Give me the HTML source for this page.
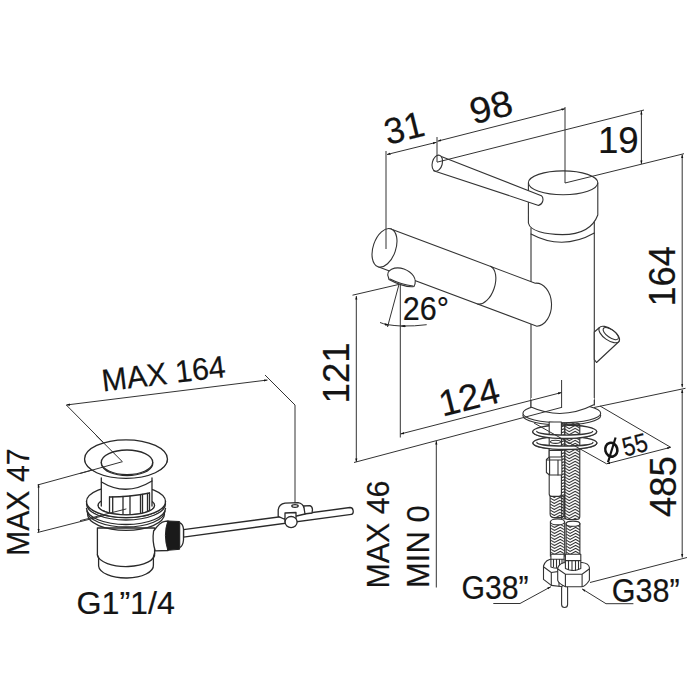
<!DOCTYPE html>
<html><head><meta charset="utf-8"><style>
html,body{margin:0;padding:0;background:#fff;width:700px;height:700px;overflow:hidden}
svg{display:block}
text{font-family:"Liberation Sans",sans-serif;fill:#141414;stroke:#141414;stroke-width:0.2}
.d{stroke:#333;stroke-width:1.0;fill:none}
.o{stroke:#333;stroke-width:1.1;fill:#fff;stroke-linejoin:round}
.l{stroke:#333;stroke-width:1.1;fill:none;stroke-linecap:round}
.dr .o,.dr .l{stroke-width:1.3;stroke:#2a2a2a}
</style></head><body>
<svg width="700" height="700" viewBox="0 0 700 700">
<!-- SHAPES -->
<defs>
<marker id="a" viewBox="0 0 10 6" refX="10" refY="3" markerWidth="3.6" markerHeight="2.9" markerUnits="userSpaceOnUse" orient="auto-start-reverse"><path d="M0,0 L10,3 L0,6 Z" fill="#111"/></marker>
<pattern id="brL" x="550.1" y="0" width="14.3" height="6.0" patternUnits="userSpaceOnUse"><path d="M-1,-24.60 L4.15,-21.51 L9.87,-24.66 L15.30,-21.40 M-1,-21.60 L4.15,-18.51 L9.87,-21.66 L15.30,-18.40 M-1,-18.60 L4.15,-15.51 L9.87,-18.66 L15.30,-15.40 M-1,-15.60 L4.15,-12.51 L9.87,-15.66 L15.30,-12.40 M-1,-12.60 L4.15,-9.51 L9.87,-12.66 L15.30,-9.40 M-1,-9.60 L4.15,-6.51 L9.87,-9.66 L15.30,-6.40 M-1,-6.60 L4.15,-3.51 L9.87,-6.66 L15.30,-3.40 M-1,-3.60 L4.15,-0.51 L9.87,-3.66 L15.30,-0.40 M-1,-0.60 L4.15,2.49 L9.87,-0.66 L15.30,2.60 M-1,2.40 L4.15,5.49 L9.87,2.34 L15.30,5.60 M-1,5.40 L4.15,8.49 L9.87,5.34 L15.30,8.60 M-1,8.40 L4.15,11.49 L9.87,8.34 L15.30,11.60 M-1,11.40 L4.15,14.49 L9.87,11.34 L15.30,14.60 M-1,14.40 L4.15,17.49 L9.87,14.34 L15.30,17.60 M-1,17.40 L4.15,20.49 L9.87,17.34 L15.30,20.60 M-1,20.40 L4.15,23.49 L9.87,20.34 L15.30,23.60" stroke="#2a2a2a" stroke-width="1.05" fill="none"/></pattern>
<pattern id="brR" x="564.8" y="0" width="15" height="6.0" patternUnits="userSpaceOnUse"><path d="M-1,-24.60 L4.35,-21.39 L10.35,-24.69 L16.00,-21.30 M-1,-21.60 L4.35,-18.39 L10.35,-21.69 L16.00,-18.30 M-1,-18.60 L4.35,-15.39 L10.35,-18.69 L16.00,-15.30 M-1,-15.60 L4.35,-12.39 L10.35,-15.69 L16.00,-12.30 M-1,-12.60 L4.35,-9.39 L10.35,-12.69 L16.00,-9.30 M-1,-9.60 L4.35,-6.39 L10.35,-9.69 L16.00,-6.30 M-1,-6.60 L4.35,-3.39 L10.35,-6.69 L16.00,-3.30 M-1,-3.60 L4.35,-0.39 L10.35,-3.69 L16.00,-0.30 M-1,-0.60 L4.35,2.61 L10.35,-0.69 L16.00,2.70 M-1,2.40 L4.35,5.61 L10.35,2.31 L16.00,5.70 M-1,5.40 L4.35,8.61 L10.35,5.31 L16.00,8.70 M-1,8.40 L4.35,11.61 L10.35,8.31 L16.00,11.70 M-1,11.40 L4.35,14.61 L10.35,11.31 L16.00,14.70 M-1,14.40 L4.35,17.61 L10.35,14.31 L16.00,17.70 M-1,17.40 L4.35,20.61 L10.35,17.31 L16.00,20.70 M-1,20.40 L4.35,23.61 L10.35,20.31 L16.00,23.70" stroke="#2a2a2a" stroke-width="1.05" fill="none"/></pattern>
<pattern id="brS" x="561.5" y="0" width="3.3" height="6.0" patternUnits="userSpaceOnUse"><path d="M-1,-24.60 L0.96,-23.43 L2.28,-24.15 L4.30,-22.94 M-1,-21.60 L0.96,-20.43 L2.28,-21.15 L4.30,-19.94 M-1,-18.60 L0.96,-17.43 L2.28,-18.15 L4.30,-16.94 M-1,-15.60 L0.96,-14.43 L2.28,-15.15 L4.30,-13.94 M-1,-12.60 L0.96,-11.43 L2.28,-12.15 L4.30,-10.94 M-1,-9.60 L0.96,-8.43 L2.28,-9.15 L4.30,-7.94 M-1,-6.60 L0.96,-5.43 L2.28,-6.15 L4.30,-4.94 M-1,-3.60 L0.96,-2.43 L2.28,-3.15 L4.30,-1.94 M-1,-0.60 L0.96,0.57 L2.28,-0.15 L4.30,1.06 M-1,2.40 L0.96,3.57 L2.28,2.85 L4.30,4.06 M-1,5.40 L0.96,6.57 L2.28,5.85 L4.30,7.06 M-1,8.40 L0.96,9.57 L2.28,8.85 L4.30,10.06 M-1,11.40 L0.96,12.57 L2.28,11.85 L4.30,13.06 M-1,14.40 L0.96,15.57 L2.28,14.85 L4.30,16.06 M-1,17.40 L0.96,18.57 L2.28,17.85 L4.30,19.06 M-1,20.40 L0.96,21.57 L2.28,20.85 L4.30,22.06" stroke="#2a2a2a" stroke-width="1.05" fill="none"/></pattern>
<pattern id="brLL" x="550.4" y="0" width="14.3" height="6.0" patternUnits="userSpaceOnUse"><path d="M-1,-24.60 L4.15,-21.51 L9.87,-24.66 L15.30,-21.40 M-1,-21.60 L4.15,-18.51 L9.87,-21.66 L15.30,-18.40 M-1,-18.60 L4.15,-15.51 L9.87,-18.66 L15.30,-15.40 M-1,-15.60 L4.15,-12.51 L9.87,-15.66 L15.30,-12.40 M-1,-12.60 L4.15,-9.51 L9.87,-12.66 L15.30,-9.40 M-1,-9.60 L4.15,-6.51 L9.87,-9.66 L15.30,-6.40 M-1,-6.60 L4.15,-3.51 L9.87,-6.66 L15.30,-3.40 M-1,-3.60 L4.15,-0.51 L9.87,-3.66 L15.30,-0.40 M-1,-0.60 L4.15,2.49 L9.87,-0.66 L15.30,2.60 M-1,2.40 L4.15,5.49 L9.87,2.34 L15.30,5.60 M-1,5.40 L4.15,8.49 L9.87,5.34 L15.30,8.60 M-1,8.40 L4.15,11.49 L9.87,8.34 L15.30,11.60 M-1,11.40 L4.15,14.49 L9.87,11.34 L15.30,14.60 M-1,14.40 L4.15,17.49 L9.87,14.34 L15.30,17.60 M-1,17.40 L4.15,20.49 L9.87,17.34 L15.30,20.60 M-1,20.40 L4.15,23.49 L9.87,20.34 L15.30,23.60" stroke="#2a2a2a" stroke-width="1.05" fill="none"/></pattern>
<pattern id="brLR" x="566.1" y="0" width="13.8" height="6.0" patternUnits="userSpaceOnUse"><path d="M-1,-24.60 L4.00,-21.60 L9.52,-24.63 L14.80,-21.47 M-1,-21.60 L4.00,-18.60 L9.52,-21.63 L14.80,-18.47 M-1,-18.60 L4.00,-15.60 L9.52,-18.63 L14.80,-15.47 M-1,-15.60 L4.00,-12.60 L9.52,-15.63 L14.80,-12.47 M-1,-12.60 L4.00,-9.60 L9.52,-12.63 L14.80,-9.47 M-1,-9.60 L4.00,-6.60 L9.52,-9.63 L14.80,-6.47 M-1,-6.60 L4.00,-3.60 L9.52,-6.63 L14.80,-3.47 M-1,-3.60 L4.00,-0.60 L9.52,-3.63 L14.80,-0.47 M-1,-0.60 L4.00,2.40 L9.52,-0.63 L14.80,2.53 M-1,2.40 L4.00,5.40 L9.52,2.37 L14.80,5.53 M-1,5.40 L4.00,8.40 L9.52,5.37 L14.80,8.53 M-1,8.40 L4.00,11.40 L9.52,8.37 L14.80,11.53 M-1,11.40 L4.00,14.40 L9.52,11.37 L14.80,14.53 M-1,14.40 L4.00,17.40 L9.52,14.37 L14.80,17.53 M-1,17.40 L4.00,20.40 L9.52,17.37 L14.80,20.53 M-1,20.40 L4.00,23.40 L9.52,20.37 L14.80,23.53" stroke="#2a2a2a" stroke-width="1.05" fill="none"/></pattern>
</defs>

<!-- ===== faucet ===== -->
<rect x="531" y="228" width="63" height="182" fill="#fff"/>
<g class="l">
<line x1="531" y1="228" x2="531" y2="408"/>
<line x1="594.3" y1="222" x2="594.3" y2="405"/>
<path d="M531,234 Q562.5,251 594.3,233"/>
</g>
<!-- cap -->
<path class="o" d="M528.4,183 L528.4,223 C530,231 545,234.6 562.4,234.6 C580,234.6 593,228 597.8,215 L597.8,183 Z"/>
<ellipse class="o" cx="563.1" cy="182.8" rx="34.7" ry="11.9"/>
<!-- lever -->
<path class="o" d="M438.7,155.6 L541.4,195.7 C544,198 543.5,204 538.6,205.4 L433.6,170.7 Z"/>
<ellipse class="o" cx="437.3" cy="163.2" rx="5" ry="8.2" transform="rotate(15 437.3 163.2)"/>
<!-- knob -->
<path class="o" d="M594.3,332 L599.5,327.5 L619,341.5 L596.5,362.5 L594.3,359.5 Z"/>
<ellipse class="o" cx="609.2" cy="334.5" rx="12" ry="5.6" transform="rotate(35 609.2 334.5)"/>
<ellipse class="l" cx="610.8" cy="333.6" rx="9" ry="3.9" transform="rotate(35 610.8 333.6)"/>
<!-- spout -->
<path d="M390.9,228.9 L535.2,283.2 A15.5,21.5 0 0 1 536.8,326.2 L378.1,266.7 Z" fill="#fff"/>
<g class="l">
<path d="M390.9,228.9 L535.2,283.2 A15.5,21.5 0 0 1 536.8,326.2 L378.1,266.7"/>
<path d="M490.5,266.2 A11.3,20 18.7 0 1 477.7,304"/>
</g>
<ellipse class="o" cx="384.5" cy="247.8" rx="11.3" ry="20" transform="rotate(18.7 384.5 247.8)"/>
<!-- aerator -->
<path class="o" d="M388.5,277.5 C385,270 395,266 404,269 C412,272 418,279 414,286.5 C408,288 395,283 389,279.5 Z"/>
<path class="l" d="M390,279 C396,282 405,285 413,286"/>

<!-- ===== base ===== -->
<!-- flange -->
<ellipse class="o" cx="561.8" cy="415.4" rx="38.9" ry="9.6"/>
<ellipse class="o" cx="561.8" cy="413.2" rx="38.9" ry="9.6"/>
<path d="M531,398 L531,407 Q562,421 594.3,404.6 L594.3,398 Z" fill="#fff"/>
<path class="l" d="M531,400 L531,407 Q562,421 594.3,404.6 L594.3,400"/>
<!-- washers (back) -->
<ellipse class="o" cx="564.9" cy="443" rx="32" ry="6.5" style="stroke-width:1.3"/>
<ellipse class="o" cx="564.7" cy="431.75" rx="32" ry="6.75" style="stroke-width:1.3"/>
<!-- rod + hoses (through washers) -->
<rect class="o" x="549.2" y="422" width="12.2" height="36"/>
<rect x="564.8" y="423" width="15" height="96.5" rx="3" fill="url(#brR)" stroke="#333" stroke-width="1.1"/>
<rect x="561.5" y="423" width="3.3" height="96" fill="url(#brS)" stroke="#333" stroke-width="0.8"/>
<!-- washers (front bands) -->
<path d="M532.7,431.75 A32,6.75 0 0 0 596.7,431.75 L592.7,431.3 A28,3.8 0 0 1 536.7,431.3 Z" fill="#fff"/>
<path class="l" style="stroke-width:1.3" d="M532.7,431.75 A32,6.75 0 0 0 596.7,431.75 M536.7,431.3 A28,3.8 0 0 0 592.7,431.3"/>
<path d="M532.9,443 A32,6.5 0 0 0 596.9,443 L592.9,442.4 A28,3.6 0 0 1 536.9,442.4 Z" fill="#fff"/>
<path class="l" style="stroke-width:1.3" d="M532.9,443 A32,6.5 0 0 0 596.9,443 M536.9,442.4 A28,3.6 0 0 0 592.9,442.4"/>
<ellipse class="o" cx="555.5" cy="441.8" rx="5" ry="1.6"/>
<!-- left rod + hex coupling -->
<rect class="o" x="549.2" y="450.5" width="12.2" height="8"/>
<path class="o" d="M549.2,474 L549.2,494 Q549.2,496.5 552,496.5 L558.6,496.5 Q561.4,496.5 561.4,494 L561.4,474 Z"/>
<path class="o" d="M546.4,459.5 L549.5,457 L561.9,457 L561.9,475 L549.5,475 L546.4,472.5 Z"/>
<path class="l" d="M549.6,457.5 L549.6,474.5 M546.6,460 L561.5,460 M558,460 L558,475"/>
<!-- left braided -->
<path d="M550.1,496.3 L564.4,496.3 L564.4,514 Q564.4,517.6 560.5,517.6 L554,517.6 Q550.1,517.6 550.1,514 Z" fill="url(#brL)" stroke="#333" stroke-width="1.1"/>
<!-- lower braided hoses -->
<rect x="550.4" y="522" width="14.3" height="34" fill="url(#brLL)" stroke="#333" stroke-width="1.1"/>
<ellipse class="o" cx="557.5" cy="521.9" rx="7.1" ry="3"/>
<rect x="566.1" y="523.7" width="13.8" height="33" fill="url(#brLR)" stroke="#333" stroke-width="1.1"/>
<ellipse class="o" cx="573" cy="523.7" rx="6.9" ry="2.6"/>
<!-- nuts -->
<path class="o" d="M543.5,566 C545,561 549,559 553,559 L560,559.5 L563,562 L563,586.7 L551.3,585.4 L543.5,579.4 Z"/>
<path class="l" d="M543.8,567 L551.3,572.5 L551.3,585.2 M551.3,572.5 L559,571.5 L559,586"/>
<path class="o" d="M550.9,554.2 L564.1,554.2 L564.1,567 Q557.5,569.5 550.9,567 Z"/>
<path class="l" d="M551,559.3 L564,559.3 M553.5,560 L553.5,566.5 M556.5,560 L556.5,567.5 M559.5,560 L559.5,567.5 M562,560 L562,567"/>
<rect class="o" x="561.6" y="585" width="6" height="22.5" rx="3"/>
<path class="o" d="M557.7,568 C559,564 563,562.5 567,562.5 L582,562.5 C586,563 589,565 589.4,567.5 L589.4,580.3 C587,584 584,586.7 582,586.7 L565.4,586.7 C562,585 558.5,583 557.7,580.3 Z"/>
<path class="l" d="M557.9,569 L565.4,574.3 L582.1,574.3 L589.2,569 M565.4,574.3 L565.4,586.5 M582.1,574.3 L582.1,586.5"/>
<path class="o" d="M565.4,554.2 L580.8,554.2 L580.8,568.5 Q573,572.5 565.4,568.5 Z"/>
<path class="l" d="M565.5,560.6 L580.7,560.6 M568.5,561 L568.5,569.5 M572,561 L572,570.5 M575.5,561 L575.5,570.5 M578.5,561 L578.5,569.5"/>

<!-- ===== dimension lines (faucet) ===== -->
<g class="d">
<line x1="386" y1="151" x2="386" y2="249"/>
<line x1="437" y1="137" x2="437" y2="162"/>
<line x1="387" y1="154.5" x2="436.5" y2="142.3" marker-start="url(#a)" marker-end="url(#a)"/>
<line x1="437.5" y1="141.2" x2="565" y2="108.7" marker-start="url(#a)" marker-end="url(#a)"/>
<line x1="565" y1="107" x2="565" y2="183"/>
<line x1="437" y1="162.2" x2="644" y2="110"/>
<line x1="641.4" y1="111" x2="641.4" y2="164" marker-start="url(#a)" marker-end="url(#a)"/>
<line x1="565" y1="183" x2="684" y2="153.7"/>
<line x1="682.2" y1="154.5" x2="682.2" y2="387.3" marker-start="url(#a)" marker-end="url(#a)"/>
<line x1="682.2" y1="389.5" x2="682.2" y2="557.5" marker-start="url(#a)" marker-end="url(#a)"/>
<line x1="594" y1="407.5" x2="685.5" y2="388.3"/>
<line x1="590" y1="582.5" x2="687" y2="557.5"/>
<line x1="356.3" y1="296" x2="356.3" y2="462" marker-start="url(#a)" marker-end="url(#a)"/>
<line x1="352.5" y1="295.2" x2="399" y2="284.4"/>
<line x1="354" y1="462.5" x2="561.6" y2="407.4"/>
<line x1="400.3" y1="284.4" x2="400.3" y2="437.5"/>
<line x1="399" y1="284.4" x2="387.5" y2="327"/>
<path d="M380,322.5 Q386,325.2 401,326 Q415,326.3 426.7,324.7"/>
<path d="M384.5,324.2 L388.6,325.3" marker-end="url(#a)"/>
<path d="M406,326.2 L401.2,326" marker-end="url(#a)"/>
<line x1="400.5" y1="434" x2="561.6" y2="392.5" marker-start="url(#a)" marker-end="url(#a)"/>
<line x1="561.6" y1="380" x2="561.6" y2="408"/>
<line x1="436.3" y1="441" x2="436.3" y2="587.5" marker-start="url(#a)"/>
<line x1="600" y1="406" x2="670.7" y2="447.3"/>
<line x1="534" y1="423" x2="606.6" y2="463.8"/>
<line x1="606.6" y1="463.8" x2="670.7" y2="447.3" marker-start="url(#a)" marker-end="url(#a)"/>
<polyline points="550.9,586.7 520,603.5 493.3,603.5" marker-start="url(#a)"/>
<polyline points="582.1,588.9 606,603.7 633.4,603.7" marker-start="url(#a)"/>
</g>

<!-- phi -->
<ellipse cx="611.3" cy="449.7" rx="6" ry="7" transform="rotate(-15 611.3 449.7)" fill="none" stroke="#141414" stroke-width="2.6"/>
<line x1="615.6" y1="437.5" x2="608" y2="462.3" stroke="#141414" stroke-width="2.2"/>
<!-- ===== drain ===== -->
<g class="d">
<line x1="66.3" y1="405" x2="267.5" y2="380" marker-start="url(#a)" marker-end="url(#a)"/>
<line x1="66.3" y1="405" x2="122.4" y2="461.7"/>
<polyline points="265,375 295,405 295,505"/>
<line x1="38.6" y1="484" x2="38.6" y2="532.5" marker-start="url(#a)" marker-end="url(#a)"/>
<line x1="37.5" y1="485" x2="122.4" y2="461.7"/>
<line x1="37.5" y1="532.5" x2="126" y2="510"/>
</g>
<g class="dr">
<!-- rod -->
<path class="o" d="M183.5,529.6 L350,507.5 C354,507.5 354,514 351.4,514.3 L183.5,537.1 Z"/>
<!-- clip -->
<path class="o" d="M303.6,506 L310,505.7 Q313,507 312.3,511 L312,513 L304,514 Z"/>
<path class="o" d="M278.2,516.4 L278.2,510 Q279,504 285,503.2 L298,502.7 Q303,503.5 304,508 L305,514 L284,519 Z"/>
<ellipse class="l" cx="295" cy="506" rx="3.2" ry="1.3"/>
<path class="o" d="M285,513 L296,512.5 L296,522 L285,522 Z"/>
<ellipse class="o" cx="291.1" cy="522.1" rx="6" ry="5.6"/>
<!-- lower body -->
<path class="o" d="M97.4,528 L97.4,555 L98.6,558 L98.6,566 A27.4,12.5 0 0 0 153.4,565 L153.4,557 L154.6,553 L154.6,528 Z"/>
<path class="l" d="M97.4,555 A28.6,12.5 0 0 0 154.6,553"/>
<!-- outlet -->
<path class="o" d="M153.6,531 Q160,522 165,521.4 L168,521 L168,550.5 L155.2,550.8 Q152,541 153.6,531 Z"/>
<path d="M167.8,521 L179.6,521.5 L179.6,549.3 L167.8,550.3 Q163,535 167.8,521 Z" fill="#1a1a1a" stroke="#222" stroke-width="1"/>
<path class="o" d="M179.6,522.6 Q183,524 183.5,529 L183.5,540 Q183,546 179.6,547.7 Z"/>
<!-- ring + threads -->
<g class="l">
<path d="M86.5,503.8 A39.5,16.2 0 0 0 165.5,503.8"/>
<path d="M86.5,508.3 A39.5,16.2 0 0 0 165.5,508.3"/>
<path d="M87,510.8 A39,16.2 0 0 0 165,510.8"/>
<path d="M87.5,514.1 A38.5,16.2 0 0 0 164.5,514.1"/>
</g>
<path class="o" d="M86.5,501.5 A39.5,16.2 0 0 0 165.5,501.5 A39.5,16.2 0 0 0 86.5,501.5 Z"/>
<ellipse class="o" cx="126.3" cy="505.5" rx="28.3" ry="9.3"/>
<rect x="101.3" y="478" width="50.7" height="32" fill="#fff"/>
<path class="l" d="M101.3,478 L101.3,506 M152,478 L152,506"/>
<g class="l">
<line x1="109.5" y1="497" x2="109.5" y2="514"/><line x1="112.7" y1="497" x2="112.7" y2="514.5"/>
<line x1="123" y1="496.5" x2="123" y2="515"/><line x1="130" y1="496" x2="130" y2="515"/>
<line x1="140.5" y1="495" x2="140.5" y2="514.5"/><line x1="142.5" y1="494.5" x2="142.5" y2="514"/>
<line x1="147.5" y1="493.5" x2="147.5" y2="512"/><line x1="149.5" y1="493" x2="149.5" y2="511"/>
</g>
<path class="l" d="M109.5,497 Q130,497 149.5,493"/>
<path d="M86.5,501.5 A39.5,16.2 0 0 0 165.5,501.5 L154.6,505.5 A28.3,9.3 0 0 1 98,505.5 Z" fill="#fff"/>
<path class="l" d="M86.5,501.5 A39.5,16.2 0 0 0 165.5,501.5 M98,505.5 A28.3,9.3 0 0 0 154.6,505.5"/>
<path class="l" d="M101.5,482 Q126,497 152,481"/>
<line class="d" x1="80" y1="520.7" x2="126.4" y2="508.9"/>
<!-- flange + cap -->
<path class="o" d="M84.6,459.1 L85.2,461.7 A41.5,19.3 0 0 0 167,461.7 L167.5,459.1 Z"/>
<ellipse class="o" cx="126" cy="459.1" rx="41.45" ry="19.3"/>
<path class="o" d="M101.3,462.3 L101.6,464.8 A25.7,12.3 0 0 0 152.6,464.8 L152.7,462.3 Z"/>
<ellipse class="o" cx="127" cy="462.3" rx="25.7" ry="12.3"/>
</g>
<g class="d"><line x1="95.7" y1="435" x2="122.4" y2="461.7"/><line x1="80" y1="473.5" x2="122.4" y2="461.7"/></g>
<!-- /SHAPES -->
<!-- TEXT -->
<g transform="translate(404.10,127.89) rotate(-14) scale(0.980,1)"><text x="0" y="12.56" font-size="36.50" text-anchor="middle">31</text></g>
<g transform="translate(491.02,107.00) rotate(-14) scale(1.057,1)"><text x="0" y="12.56" font-size="36.50" text-anchor="middle">98</text></g>
<g transform="translate(618.34,140.26) rotate(0) scale(0.983,1)"><text x="0" y="12.83" font-size="37.30" text-anchor="middle">19</text></g>
<g transform="translate(662.22,276.38) rotate(-90) scale(0.984,1)"><text x="0" y="12.66" font-size="36.80" text-anchor="middle">164</text></g>
<g transform="translate(425.90,308.90) rotate(0) scale(0.913,1)"><text x="0" y="11.52" font-size="33.50" text-anchor="middle">26°</text></g>
<g transform="translate(335.85,372.93) rotate(-90) scale(0.994,1)"><text x="0" y="12.66" font-size="36.80" text-anchor="middle">121</text></g>
<g transform="translate(469.10,397.10) rotate(-14) scale(1.008,1)"><text x="0" y="12.56" font-size="36.50" text-anchor="middle">124</text></g>
<g transform="translate(634.77,444.77) rotate(-15) scale(0.853,1)"><text x="0" y="9.12" font-size="26.50" text-anchor="middle">55</text></g>
<g transform="translate(663.66,486.57) rotate(-90) scale(0.983,1)"><text x="0" y="12.80" font-size="37.20" text-anchor="middle">485</text></g>
<g transform="translate(377.87,534.55) rotate(-90) scale(0.970,1)"><text x="0" y="10.77" font-size="31.30" text-anchor="middle">MAX 46</text></g>
<g transform="translate(417.99,546.64) rotate(-90) scale(0.990,1)"><text x="0" y="10.77" font-size="31.30" text-anchor="middle">MIN 0</text></g>
<g transform="translate(495.03,587.56) rotate(0) scale(0.908,1)"><text x="0" y="11.46" font-size="33.30" text-anchor="middle">G38”</text></g>
<g transform="translate(645.82,590.27) rotate(0) scale(0.918,1)"><text x="0" y="11.46" font-size="33.30" text-anchor="middle">G38”</text></g>
<g transform="translate(163.55,373.50) rotate(-6.7) scale(0.969,1)"><text x="0" y="10.73" font-size="31.20" text-anchor="middle">MAX 164</text></g>
<g transform="translate(17.87,502.24) rotate(-90) scale(0.965,1)"><text x="0" y="10.77" font-size="31.30" text-anchor="middle">MAX 47</text></g>
<g transform="translate(125.66,603.11) rotate(0) scale(1.056,1)"><text x="0" y="10.49" font-size="30.50" text-anchor="middle">G1”1/4</text></g>
<!-- /TEXT -->
</svg>
</body></html>
